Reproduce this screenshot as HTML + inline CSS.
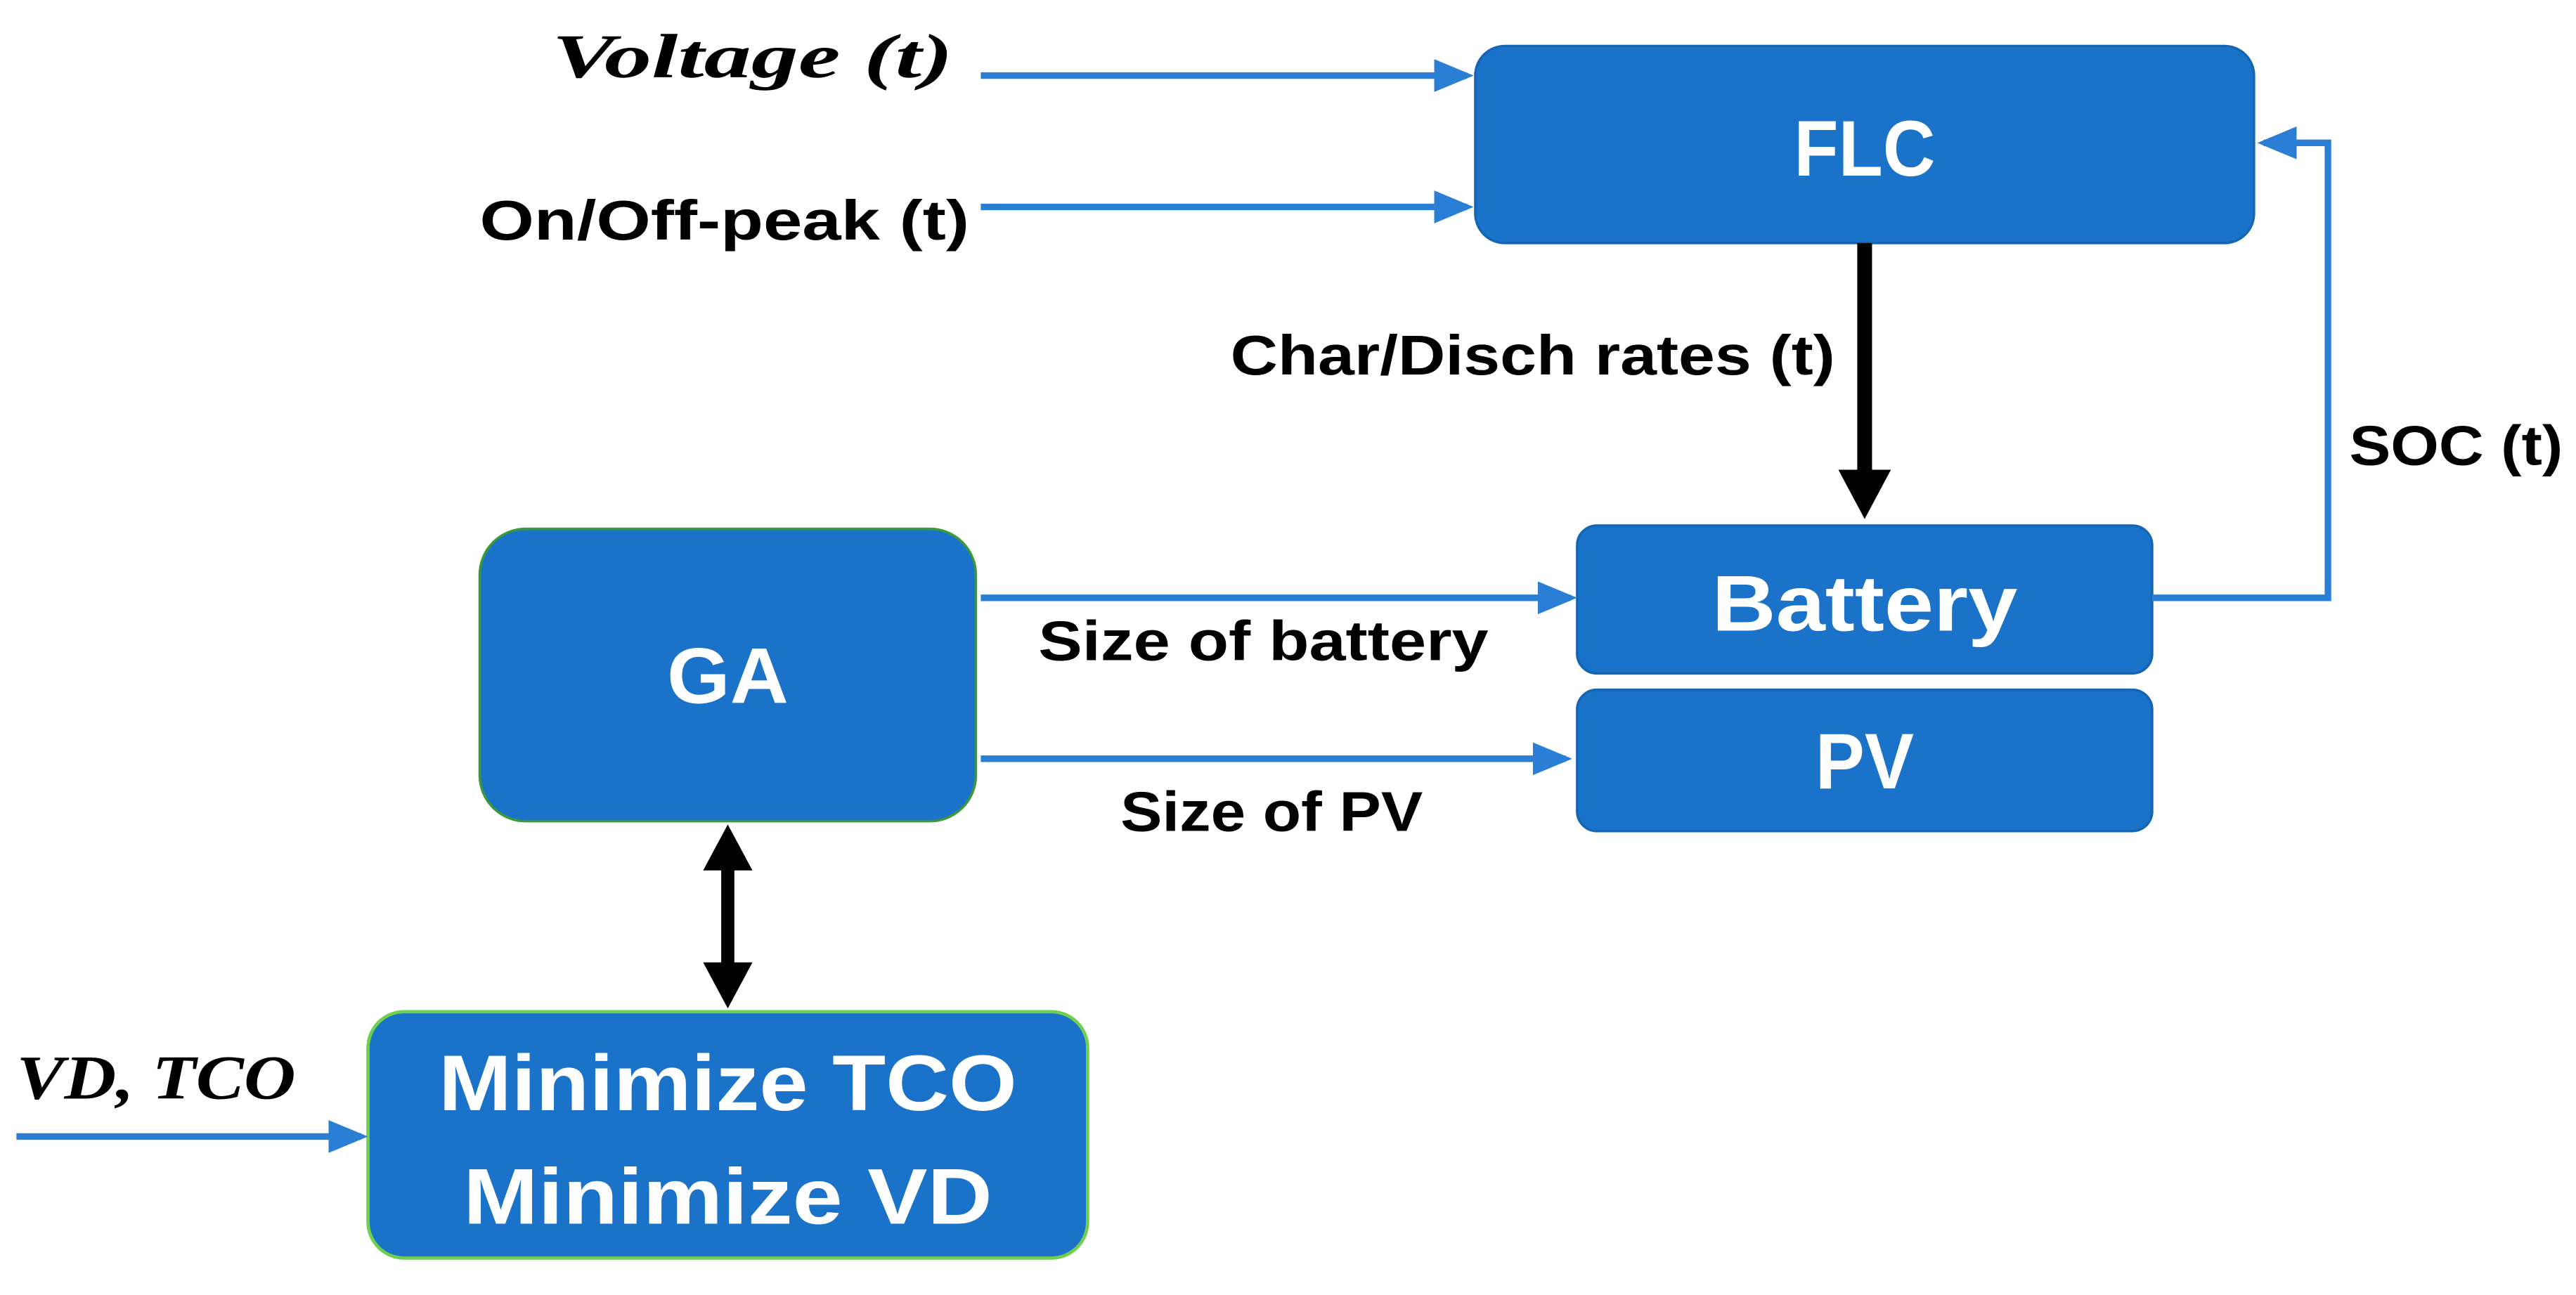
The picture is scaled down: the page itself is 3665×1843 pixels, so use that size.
<!DOCTYPE html>
<html><head><style>html,body{margin:0;padding:0;background:#fff}svg{display:block}</style></head>
<body>
<svg width="3665" height="1843" viewBox="0 0 1568 788.5" preserveAspectRatio="none" xmlns="http://www.w3.org/2000/svg">
<defs>
<marker id="ab" markerWidth="6" markerHeight="6" refX="5" refY="3" orient="auto" markerUnits="strokeWidth"><path d="M0,0.5 L6,3 L0,5.5 Z" fill="#2a7fd4"/></marker>
</defs>
<g font-family="Liberation Sans, sans-serif" font-weight="bold">
<rect x="898" y="28" width="474" height="120" rx="18" fill="#1a73c8" stroke="#1565b5" stroke-width="1.5"/>
<rect x="960" y="320" width="350" height="90" rx="12" fill="#1a73c8" stroke="#1565b5" stroke-width="1.5"/>
<rect x="960" y="420" width="350" height="86" rx="12" fill="#1a73c8" stroke="#1565b5" stroke-width="1.5"/>
<rect x="292" y="322" width="302" height="178" rx="28" fill="#1a73c8" stroke="#3a9a3a" stroke-width="1.5"/>
<rect x="224" y="616" width="438" height="150" rx="22" fill="#1a73c8" stroke="#6fcf4f" stroke-width="2"/>
<g fill="#fff" font-size="48" text-anchor="middle">
<text x="1135" y="107" textLength="86" lengthAdjust="spacingAndGlyphs">FLC</text>
<text x="1135" y="384" textLength="186" lengthAdjust="spacingAndGlyphs">Battery</text>
<text x="1135" y="480" textLength="60" lengthAdjust="spacingAndGlyphs">PV</text>
<text x="443" y="428" textLength="74" lengthAdjust="spacingAndGlyphs">GA</text>
<text x="443" y="676" textLength="352" lengthAdjust="spacingAndGlyphs">Minimize TCO</text>
<text x="443" y="745" textLength="322" lengthAdjust="spacingAndGlyphs">Minimize VD</text>
</g>
<g stroke="#2a7fd4" stroke-width="4" fill="none">
<line x1="597" y1="46" x2="893" y2="46" marker-end="url(#ab)"/>
<line x1="597" y1="126" x2="893" y2="126" marker-end="url(#ab)"/>
<line x1="597" y1="364" x2="956" y2="364" marker-end="url(#ab)"/>
<line x1="597" y1="462" x2="953" y2="462" marker-end="url(#ab)"/>
<line x1="10" y1="692" x2="220" y2="692" marker-end="url(#ab)"/>
<polyline points="1310,364 1417,364 1417,87 1378,87" marker-end="url(#ab)"/>
</g>
<line x1="1135" y1="148" x2="1135" y2="288" stroke="#000" stroke-width="9"/>
<path d="M1119,286 L1151,286 L1135,316 Z" fill="#000"/>
<line x1="443" y1="528" x2="443" y2="588" stroke="#000" stroke-width="8"/>
<path d="M428,530 L458,530 L443,502 Z" fill="#000"/>
<path d="M428,586 L458,586 L443,614 Z" fill="#000"/>
<g fill="#000" font-size="34">
<text x="292" y="146" textLength="298" lengthAdjust="spacingAndGlyphs">On/Off-peak (t)</text>
<text x="749" y="228" textLength="368" lengthAdjust="spacingAndGlyphs">Char/Disch rates (t)</text>
<text x="1430" y="283" textLength="130" lengthAdjust="spacingAndGlyphs">SOC (t)</text>
<text x="632" y="402" textLength="274" lengthAdjust="spacingAndGlyphs">Size of battery</text>
<text x="682" y="506" textLength="184" lengthAdjust="spacingAndGlyphs">Size of PV</text>
</g>
<g fill="#000" font-family="Liberation Serif, serif" font-style="italic" font-size="38">
<text x="336" y="47" textLength="244" lengthAdjust="spacingAndGlyphs">Voltage (t)</text>
<text x="10" y="669" textLength="170" lengthAdjust="spacingAndGlyphs">VD, TCO</text>
</g>
</g>
</svg>
</body></html>
